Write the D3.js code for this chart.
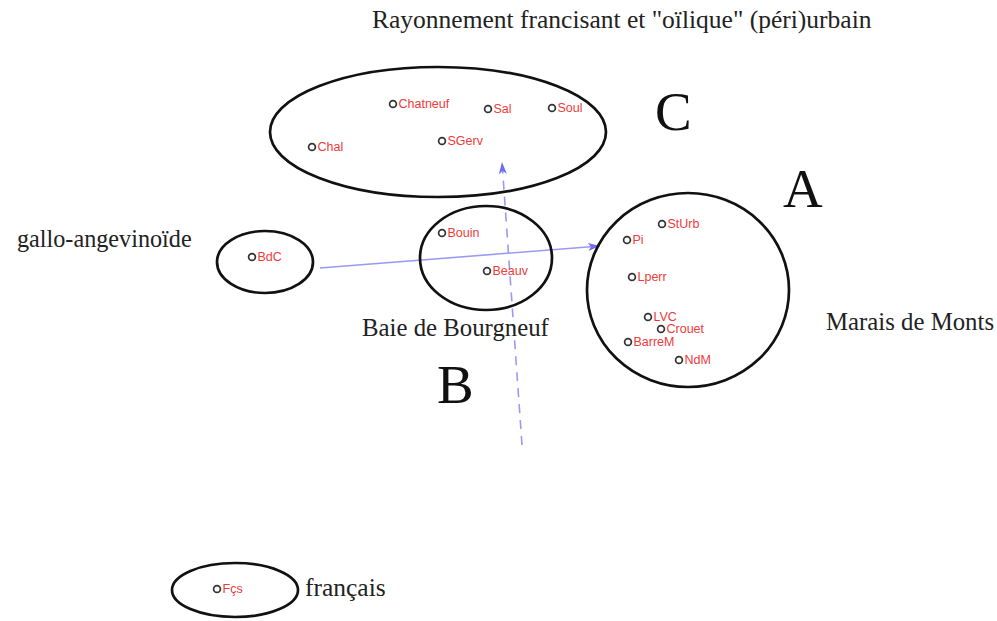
<!DOCTYPE html>
<html><head><meta charset="utf-8">
<script src="https://cdn.jsdelivr.net/npm/d3@7"></script>
<style>html,body{margin:0;padding:0;background:#fff;}svg{display:block;}</style>
</head><body>
<svg id="chart" width="997" height="621"></svg>
<script>
// ---- data (factor-map coordinates) ----
const sites = ["Chatneuf","Sal","Soul","Chal","SGerv","Bouin","Beauv","BdC","StUrb","Pi","Lperr","LVC","Crouet","BarreM","NdM","Fçs"];
const dim1  = [-1.07,-0.12, 0.52,-1.88,-0.58,-0.58,-0.13,-2.48, 1.62, 1.27, 1.32, 1.48, 1.61, 1.28, 1.79,-2.83];
const dim2  = [ 1.96, 1.91, 1.92, 1.53, 1.59, 0.67, 0.29, 0.43, 0.76, 0.60, 0.23,-0.17,-0.29,-0.42,-0.60,-2.89];

// groups (ellipses) in the same units
const groups   = ["C","B","BdC","A","Fcs"];
const groupCx  = [-0.62,-0.14,-2.35, 1.88,-2.65];
const groupCy  = [ 1.68, 0.42, 0.38, 0.10,-2.90];
const groupRx  = [ 1.68, 0.66, 0.48, 1.01, 0.63];
const groupRy  = [ 0.65, 0.52, 0.31, 0.97, 0.27];

// axes arrows
const arrowNames = ["horizontal","vertical"];
const arrowX1 = [-1.80, 0.22];
const arrowY1 = [ 0.32,-1.45];
const arrowX2 = [ 1.00, 0.02];
const arrowY2 = [ 0.54, 1.38];

// annotation texts
const noteTexts = ["Rayonnement francisant et \"oïlique\" (péri)urbain","gallo-angevinoïde","Baie de Bourgneuf","Marais de Monts","français"];
const noteSize  = [25.5, 24.2, 24.8, 24.8, 25.5];
const noteX = [-1.28,-4.83,-1.38, 3.26,-1.95];
const noteY = [ 2.72, 0.53,-0.36,-0.30,-2.96];
const bigLetters = ["C","A","B"];
const bigX = [ 1.55, 2.83,-0.63];
const bigY = [ 1.70, 0.93,-1.03];

// ---- drawing ----
const svg = d3.select("#chart");
const x = d3.scaleLinear().domain([-5, 4.97]).range([0, 997]);
const y = d3.scaleLinear().domain([3, -3.21]).range([0, 621]);
const k = x(1) - x(0), ky = y(0) - y(1);

svg.append("rect").attr("width",997).attr("height",621).attr("fill","#fff");

const defs = svg.append("defs");
defs.append("marker").attr("id","ah").attr("viewBox","0 0 12 8")
  .attr("refX",12).attr("refY",4).attr("markerWidth",12).attr("markerHeight",8)
  .attr("markerUnits","userSpaceOnUse").attr("orient","auto")
  .append("path").attr("d","M0,0 L12,4 L0,8 L3,4 Z").attr("fill","#6f6ff2");

svg.append("g").selectAll("line").data(arrowNames).join("line")
  .attr("x1",(d,i)=>x(arrowX1[i])).attr("y1",(d,i)=>y(arrowY1[i]))
  .attr("x2",(d,i)=>x(arrowX2[i])).attr("y2",(d,i)=>y(arrowY2[i]))
  .attr("stroke","#9a9af5").attr("stroke-width",1.6)
  .attr("stroke-dasharray",(d,i)=> i===1 ? "9,7" : null)
  .attr("marker-end","url(#ah)");

svg.append("g").selectAll("ellipse").data(groups).join("ellipse")
  .attr("cx",(d,i)=>x(groupCx[i])).attr("cy",(d,i)=>y(groupCy[i]))
  .attr("rx",(d,i)=>groupRx[i]*k).attr("ry",(d,i)=>groupRy[i]*ky)
  .attr("fill","none").attr("stroke","#111").attr("stroke-width",2.7);

const pts = svg.append("g").selectAll("g").data(sites).join("g")
  .attr("transform",(d,i)=>`translate(${x(dim1[i])},${y(dim2[i])})`);
pts.append("circle").attr("r",3.4).attr("fill","none").attr("stroke","#333").attr("stroke-width",1.7);
pts.append("text").attr("x",5.5).attr("y",4.3).text(d=>d)
  .attr("font-family","Liberation Sans, Arial, sans-serif").attr("font-size",12.5)
  .attr("fill","#f03a3a");

svg.append("g").selectAll("text").data(noteTexts).join("text")
  .attr("x",(d,i)=>x(noteX[i])).attr("y",(d,i)=>y(noteY[i])).text(d=>d)
  .attr("font-family","Liberation Serif, Times New Roman, serif")
  .attr("font-size",(d,i)=>noteSize[i])
  .attr("fill","#222");

svg.append("g").selectAll("text").data(bigLetters).join("text")
  .attr("x",(d,i)=>x(bigX[i])).attr("y",(d,i)=>y(bigY[i])).text(d=>d)
  .attr("font-family","Liberation Serif, Times New Roman, serif").attr("font-size",55)
  .attr("fill","#111");
</script>
</body></html>
